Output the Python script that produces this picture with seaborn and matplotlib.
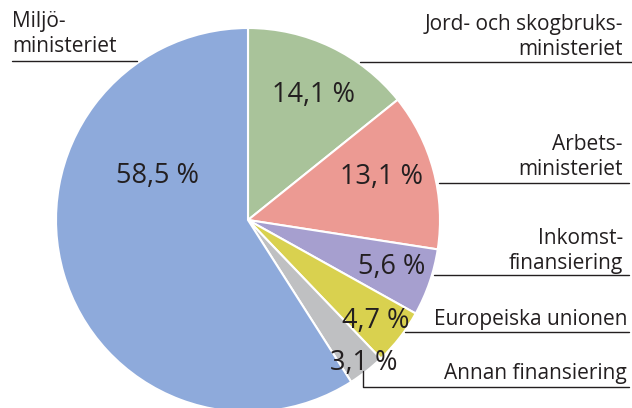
import matplotlib
matplotlib.use("Agg")
import matplotlib.pyplot as plt
import seaborn as sns

sns.set_theme(style="white")
plt.rcParams['font.family'] = ['Open Sans', 'DejaVu Sans']

categories = ["Jord- och skogbruks-\nministeriet", "Arbets-\nministeriet",
              "Inkomst-\nfinansiering", "Europeiska unionen",
              "Annan finansiering", "Miljö-\nministeriet"]
values = [14.1, 13.1, 5.6, 4.7, 3.1, 58.5]
pct_labels = ["14,1 %", "13,1 %", "5,6 %", "4,7 %", "3,1 %", "58,5 %"]
colors = ["#a9c39a", "#ec9a93", "#a69fcf", "#d9d14f", "#bfc0c2", "#8eaadb"]

W, H = 632, 408
fig = plt.figure(figsize=(W / 100, H / 100), dpi=100)
ax = fig.add_axes([0, 0, 1, 1])

def Y(py):
    return H - py

cx, cy, R = 248, Y(220), 192
ax.pie(values, colors=colors, startangle=90, counterclock=False,
       center=(cx, cy), radius=R, frame=True,
       wedgeprops=dict(edgecolor="white", linewidth=1.5))
ax.set_xlim(0, W)
ax.set_ylim(0, H)
ax.set_aspect('equal')
ax.axis('off')

txt = "#231f20"
pfs = 19.5
pct_pos = [(314, 95), (382, 177), (392, 267), (376, 321), (364, 363), (158, 176)]
for lab, (px, py) in zip(pct_labels, pct_pos):
    ax.text(px, Y(py), lab, ha='center', va='center', fontsize=pfs, color=txt)

lfs = 15
ls = 1.2
# category labels
ax.text(12, Y(34), categories[5], ha='left', va='center', fontsize=lfs, color=txt, linespacing=ls)
ax.text(623, Y(37), categories[0], ha='right', va='center', fontsize=lfs, color=txt, linespacing=ls, multialignment='right')
ax.text(623, Y(157), categories[1], ha='right', va='center', fontsize=lfs, color=txt, linespacing=ls, multialignment='right')
ax.text(623, Y(251), categories[2], ha='right', va='center', fontsize=lfs, color=txt, linespacing=ls, multialignment='right')
ax.text(627, Y(320), categories[3], ha='right', va='center', fontsize=lfs, color=txt)
ax.text(627, Y(374), categories[4], ha='right', va='center', fontsize=lfs, color=txt)

lc = "#231f20"
lw = 1.0
ax.plot([12, 137], [Y(61), Y(61)], color=lc, lw=lw)
ax.plot([360, 632], [Y(62), Y(62)], color=lc, lw=lw)
ax.plot([439, 629], [Y(183), Y(183)], color=lc, lw=lw)
ax.plot([434, 629], [Y(275), Y(275)], color=lc, lw=lw)
ax.plot([405, 629], [Y(332), Y(332)], color=lc, lw=lw)
ax.plot([363, 363, 629], [Y(371), Y(387), Y(387)], color=lc, lw=lw)

fig.savefig("out.png", dpi=100)
